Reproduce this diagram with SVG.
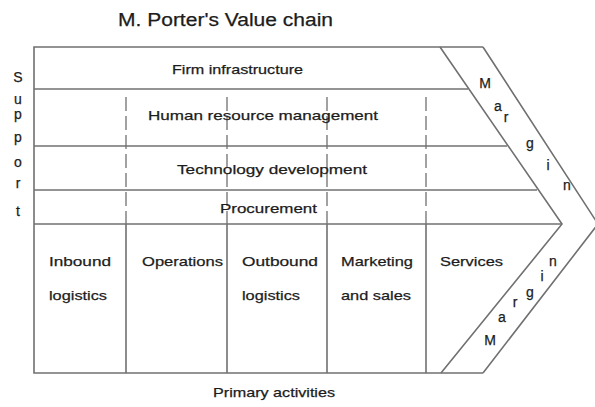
<svg xmlns="http://www.w3.org/2000/svg" width="595" height="407" viewBox="0 0 595 407">
  <style>
    .ln { stroke: #707070; stroke-width: 1.6; fill: none; }
    .dash { stroke: #707070; stroke-width: 1.3; stroke-dasharray: 14 5; fill: none; }
    text { font-family: "Liberation Sans", Arial, sans-serif; fill: #1c1c1c; stroke: #1c1c1c; stroke-width: 0.25; }
    .lbl { font-size: 13.5px; }
    .ltr { font-size: 14px; }
    .ttl { font-size: 18px; }
    .mid { text-anchor: middle; }
  </style>
  <rect width="595" height="407" fill="#fff"/>

  <g id="title">
    <text class="ttl" x="118" y="26" textLength="215" lengthAdjust="spacingAndGlyphs">M. Porter's Value chain</text>
  </g>

  <!-- outer frame and chevron -->
  <g id="frame">
    <polyline class="ln" points="483,47 34,47 34,373 483,373"/>
    <polyline class="ln" points="483,47 598,224 483,373"/>
    <polyline class="ln" points="440,47 562,224 441,373"/>
  </g>

  <g id="connectors">
    <!-- support row dividers -->
    <line class="ln" x1="34" y1="89" x2="468" y2="89"/>
    <line class="ln" x1="34" y1="146" x2="507" y2="146"/>
    <line class="ln" x1="34" y1="190" x2="537" y2="190"/>
    <line class="ln" x1="34" y1="224" x2="562" y2="224"/>
    <!-- dashed column guides through support activities -->
    <line class="dash" x1="126" y1="97" x2="126" y2="224"/>
    <line class="dash" x1="227" y1="97" x2="227" y2="224"/>
    <line class="dash" x1="327" y1="97" x2="327" y2="224"/>
    <line class="dash" x1="426" y1="97" x2="426" y2="224"/>
    <!-- primary activity dividers -->
    <line class="ln" x1="126" y1="224" x2="126" y2="373"/>
    <line class="ln" x1="227" y1="224" x2="227" y2="373"/>
    <line class="ln" x1="327" y1="224" x2="327" y2="373"/>
    <line class="ln" x1="426" y1="224" x2="426" y2="373"/>
  </g>

  <g id="support-label" class="ltr">
    <text x="18" y="82" class="mid">S</text>
    <text x="18" y="104" class="mid">u</text>
    <text x="18" y="119" class="mid">p</text>
    <text x="18" y="142" class="mid">p</text>
    <text x="18" y="167" class="mid">o</text>
    <text x="18" y="188" class="mid">r</text>
    <text x="18" y="216" class="mid">t</text>
  </g>

  <g id="firm-infrastructure">
    <text class="lbl" x="172" y="74" textLength="131" lengthAdjust="spacingAndGlyphs">Firm infrastructure</text>
  </g>
  <g id="human-resource-management">
    <text class="lbl" x="148" y="120" textLength="230" lengthAdjust="spacingAndGlyphs">Human resource management</text>
  </g>
  <g id="technology-development">
    <text class="lbl" x="177" y="174" textLength="190" lengthAdjust="spacingAndGlyphs">Technology development</text>
  </g>
  <g id="procurement">
    <text class="lbl" x="220" y="213" textLength="97" lengthAdjust="spacingAndGlyphs">Procurement</text>
  </g>

  <g id="inbound-logistics" class="lbl">
    <text x="49" y="266" textLength="62" lengthAdjust="spacingAndGlyphs">Inbound</text>
    <text x="49" y="300" textLength="58" lengthAdjust="spacingAndGlyphs">logistics</text>
  </g>
  <g id="operations" class="lbl">
    <text x="142" y="266" textLength="81" lengthAdjust="spacingAndGlyphs">Operations</text>
  </g>
  <g id="outbound-logistics" class="lbl">
    <text x="242" y="266" textLength="76" lengthAdjust="spacingAndGlyphs">Outbound</text>
    <text x="242" y="300" textLength="58" lengthAdjust="spacingAndGlyphs">logistics</text>
  </g>
  <g id="marketing-and-sales" class="lbl">
    <text x="341" y="266" textLength="72" lengthAdjust="spacingAndGlyphs">Marketing</text>
    <text x="341" y="300" textLength="70" lengthAdjust="spacingAndGlyphs">and sales</text>
  </g>
  <g id="services" class="lbl">
    <text x="440" y="266" textLength="63" lengthAdjust="spacingAndGlyphs">Services</text>
  </g>

  <g id="margin-upper" class="ltr">
    <text x="485" y="88" class="mid">M</text>
    <text x="498" y="111" class="mid">a</text>
    <text x="506" y="122" class="mid">r</text>
    <text x="530" y="148" class="mid">g</text>
    <text x="548" y="170" class="mid">i</text>
    <text x="567" y="190" class="mid">n</text>
  </g>
  <g id="margin-lower" class="ltr">
    <text x="490" y="345" class="mid">M</text>
    <text x="502" y="322" class="mid">a</text>
    <text x="515" y="307" class="mid">r</text>
    <text x="530" y="297" class="mid">g</text>
    <text x="542" y="281" class="mid">i</text>
    <text x="553" y="266" class="mid">n</text>
  </g>

  <g id="primary-label">
    <text class="lbl" x="213" y="397" textLength="122" lengthAdjust="spacingAndGlyphs">Primary activities</text>
  </g>
</svg>
